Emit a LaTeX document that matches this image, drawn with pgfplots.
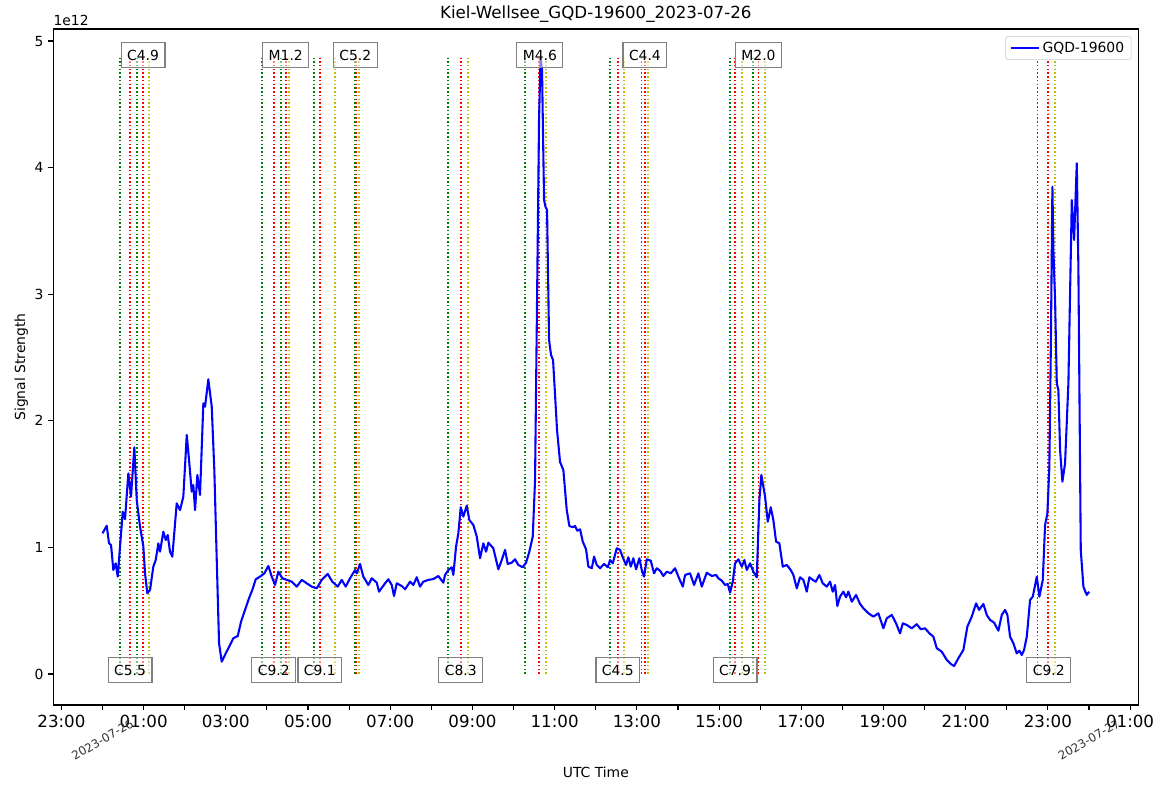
\documentclass[border=0pt]{standalone}
\usepackage{pgfplots}
\pgfplotsset{compat=1.18}
\usepackage{fontspec}
\setmainfont{DejaVu Sans}
\definecolor{fgreen}{rgb}{0,0.5,0}
\definecolor{fred}{rgb}{1,0,0}
\definecolor{fyel}{rgb}{0.75,0.75,0}
\definecolor{mblue}{rgb}{0,0,1}
\pgfplotstableread{
h v
0.000 1.111
0.102 1.171
0.158 1.032
0.207 1.019
0.263 0.821
0.321 0.874
0.370 0.769
0.426 1.006
0.491 1.282
0.547 1.222
0.628 1.585
0.693 1.401
0.774 1.791
0.832 1.374
0.912 1.164
0.993 1.006
1.034 0.795
1.090 0.637
1.156 0.664
1.236 0.848
1.294 0.900
1.358 1.032
1.399 0.966
1.479 1.124
1.538 1.058
1.586 1.098
1.642 0.966
1.698 0.927
1.805 1.348
1.886 1.295
1.966 1.401
2.049 1.888
2.105 1.690
2.170 1.440
2.209 1.493
2.251 1.295
2.307 1.572
2.372 1.414
2.453 2.138
2.494 2.111
2.574 2.328
2.657 2.111
2.720 1.611
2.779 0.900
2.835 0.242
2.900 0.097
2.998 0.163
3.061 0.203
3.182 0.282
3.290 0.300
3.370 0.413
3.467 0.506
3.564 0.598
3.645 0.664
3.727 0.748
3.832 0.769
3.937 0.795
4.034 0.853
4.117 0.769
4.197 0.703
4.277 0.808
4.375 0.756
4.482 0.743
4.603 0.729
4.725 0.690
4.847 0.743
4.968 0.716
5.090 0.690
5.212 0.677
5.333 0.743
5.479 0.790
5.591 0.729
5.723 0.690
5.820 0.743
5.917 0.690
6.022 0.756
6.144 0.821
6.185 0.795
6.265 0.869
6.345 0.769
6.467 0.703
6.550 0.756
6.672 0.721
6.727 0.650
6.873 0.716
6.954 0.748
7.036 0.703
7.092 0.616
7.158 0.716
7.280 0.695
7.360 0.669
7.482 0.729
7.562 0.703
7.645 0.764
7.725 0.690
7.805 0.729
7.927 0.743
8.049 0.750
8.170 0.774
8.292 0.721
8.333 0.782
8.414 0.821
8.496 0.843
8.535 0.782
8.601 1.006
8.657 1.111
8.715 1.317
8.779 1.243
8.861 1.330
8.925 1.216
9.022 1.177
9.105 1.085
9.185 0.914
9.265 1.032
9.331 0.966
9.387 1.037
9.508 0.993
9.630 0.827
9.713 0.900
9.793 0.980
9.859 0.869
9.956 0.879
10.036 0.906
10.117 0.861
10.224 0.843
10.304 0.879
10.384 0.966
10.467 1.085
10.523 1.532
10.572 2.954
10.620 4.376
10.657 4.866
10.693 4.771
10.742 3.744
10.779 3.689
10.815 3.665
10.864 2.638
10.912 2.520
10.961 2.480
11.010 2.204
11.058 1.927
11.131 1.675
11.212 1.611
11.294 1.295
11.358 1.169
11.440 1.159
11.496 1.169
11.552 1.132
11.618 1.143
11.684 1.045
11.764 0.985
11.820 0.848
11.903 0.835
11.959 0.927
12.024 0.861
12.105 0.835
12.202 0.869
12.292 0.843
12.348 0.900
12.414 0.874
12.511 0.993
12.591 0.980
12.657 0.922
12.737 0.861
12.793 0.922
12.852 0.848
12.915 0.914
12.981 0.827
13.061 0.914
13.119 0.821
13.175 0.769
13.241 0.906
13.338 0.895
13.418 0.795
13.484 0.835
13.564 0.816
13.645 0.774
13.727 0.808
13.825 0.795
13.929 0.835
14.010 0.769
14.117 0.690
14.173 0.782
14.294 0.795
14.392 0.703
14.496 0.795
14.579 0.690
14.701 0.800
14.822 0.774
14.927 0.782
14.983 0.756
15.066 0.737
15.146 0.703
15.212 0.711
15.268 0.642
15.333 0.729
15.389 0.874
15.470 0.906
15.552 0.848
15.616 0.900
15.674 0.821
15.754 0.874
15.835 0.808
15.917 0.764
15.981 1.374
16.029 1.572
16.119 1.401
16.185 1.203
16.258 1.317
16.321 1.216
16.387 1.045
16.467 1.032
16.550 0.848
16.647 0.861
16.745 0.821
16.808 0.782
16.891 0.677
16.971 0.764
17.051 0.743
17.134 0.650
17.197 0.764
17.280 0.743
17.353 0.729
17.440 0.782
17.523 0.716
17.620 0.690
17.701 0.729
17.766 0.650
17.822 0.703
17.878 0.537
17.944 0.611
18.024 0.650
18.090 0.606
18.146 0.650
18.229 0.571
18.333 0.624
18.431 0.553
18.511 0.519
18.633 0.479
18.754 0.453
18.876 0.479
18.998 0.361
19.080 0.440
19.202 0.466
19.307 0.400
19.404 0.321
19.470 0.400
19.567 0.387
19.689 0.361
19.810 0.393
19.908 0.353
20.012 0.361
20.117 0.321
20.214 0.295
20.297 0.203
20.418 0.176
20.540 0.111
20.637 0.079
20.718 0.063
20.822 0.124
20.944 0.190
21.041 0.374
21.148 0.453
21.253 0.558
21.326 0.506
21.431 0.553
21.513 0.466
21.594 0.427
21.691 0.405
21.796 0.342
21.878 0.466
21.959 0.506
22.015 0.466
22.080 0.295
22.161 0.242
22.243 0.163
22.307 0.184
22.365 0.150
22.421 0.190
22.487 0.295
22.567 0.585
22.633 0.611
22.730 0.769
22.793 0.611
22.876 0.743
22.932 1.177
22.988 1.269
23.036 1.637
23.071 2.559
23.110 3.849
23.134 3.349
23.175 2.954
23.217 2.296
23.255 2.243
23.297 1.769
23.353 1.519
23.418 1.664
23.499 2.296
23.582 3.744
23.638 3.428
23.703 4.034
23.742 3.217
23.800 0.979
23.864 0.690
23.946 0.624
24.002 0.650
}\sig
\pgfplotsset{
  fs/.style={color=fgreen, line width=1.25pt, dash pattern=on 1.1pt off 1.6pt, forget plot},
  fp/.style={color=fred, line width=1.25pt, dash pattern=on 1.1pt off 1.6pt, forget plot},
  fe/.style={color=fyel, line width=1.25pt, dash pattern=on 1.1pt off 1.6pt, forget plot},
}
\newcommand{\flare}[3]{%
  \addplot[fs] coordinates {(#1,0) (#1,4.866)};
  \addplot[fp] coordinates {(#2,0) (#2,4.866)};
  \addplot[fe] coordinates {(#3,0) (#3,4.866)};
}
\begin{document}
\begin{tikzpicture}
\path[use as bounding box] (-38.4pt,-62.64pt) rectangle (803.3pt,507.6pt);
\begin{axis}[
  scale only axis,
  width=781.2pt, height=486.7pt,
  xmin=-1.197, xmax=25.20,
  ymin=-0.245, ymax=5.095,
  axis line style={line width=0.8pt},
  tick style={black, line width=0.8pt},
  tick align=outside,
  major tick length=3.5pt, minor tick length=3.5pt,
  xtick={-1,1,...,25},
  xticklabels={23:00,01:00,03:00,05:00,07:00,09:00,11:00,13:00,15:00,17:00,19:00,21:00,23:00,01:00},
  minor xtick={0,2,...,24},
  ytick={0,1,2,3,4,5},
  xtick pos=bottom, ytick pos=left,
  /pgf/number format/assume math mode=true,
  xticklabel style={font=\fontsize{12}{14}\selectfont},
  yticklabel style={font=\fontsize{10}{12}\selectfont},
  title={Kiel-Wellsee\_GQD-19600\_2023-07-26},
  title style={at={(axis description cs:0.5,1.0104)}, anchor=center, font=\fontsize{12}{14}\selectfont},
  xlabel={UTC Time},
  xlabel style={at={(axis description cs:0.5,-0.1)}, anchor=center, font=\fontsize{10}{12}\selectfont},
  ylabel={Signal Strength},
  ylabel style={at={(axis description cs:-0.0295,0.5)}, anchor=center, font=\fontsize{10}{12}\selectfont},
  legend style={at={(axis description cs:1,1)}, anchor=north east, xshift=-5pt, yshift=-5pt,
    draw=black!20, fill=white, rounded corners=2pt, font=\fontsize{10}{12}\selectfont,
    inner xsep=3pt, inner ysep=2pt},
  legend cell align=left,
  legend image code/.code={\draw[#1, line width=1.5pt] (0pt,0pt) -- (20pt,0pt);},
  clip=false,
]
\flare{0.426}{0.669}{1.131}
\flare{0.839}{0.985}{1.131}
\flare{3.881}{4.165}{4.530}
\flare{4.343}{4.457}{4.530}
\flare{5.146}{5.285}{5.657}
\flare{6.143}{6.180}{6.234}
\flare{8.400}{8.715}{8.886}
\flare{10.280}{10.620}{10.790}
\flare{12.350}{12.535}{12.690}
\flare{13.115}{13.196}{13.277}
\flare{15.270}{15.390}{15.550}
\flare{15.820}{15.960}{16.120}
\flare{22.750}{23.000}{23.170}
\addplot[mblue, line width=1.5pt, line join=round] table[x=h, y=v] {\sig};
\addlegendentry{GQD-19600}
\tikzset{lbl/.style={draw=gray, fill=white, fill opacity=0.5, text opacity=1, draw opacity=1,
   line width=0.9pt, inner xsep=4.3pt, minimum height=18pt, anchor=center, font=\fontsize{10}{12}\selectfont}}
\node[lbl] at (axis cs:0.669,0.03) {C5.5};
\node[lbl] at (axis cs:0.985,4.89) {C4.9};
\node[lbl] at (axis cs:4.165,0.03) {C9.2};
\node[lbl] at (axis cs:4.457,4.89) {M1.2};
\node[lbl] at (axis cs:5.285,0.03) {C9.1};
\node[lbl] at (axis cs:6.150,4.89) {C5.2};
\node[lbl] at (axis cs:8.715,0.03) {C8.3};
\node[lbl] at (axis cs:10.640,4.89) {M4.6};
\node[lbl] at (axis cs:12.535,0.03) {C4.5};
\node[lbl] at (axis cs:13.196,4.89) {C4.4};
\node[lbl] at (axis cs:15.390,0.03) {C7.9};
\node[lbl] at (axis cs:15.960,4.89) {M2.0};
\node[lbl] at (axis cs:23.020,0.03) {C9.2};
\node[anchor=west, inner sep=0pt, font=\fontsize{10}{12}\selectfont] at (axis description cs:0,1.0133) {1e12};
\node[rotate=30, anchor=center, text=black!80, font=\fontsize{8.5}{10}\selectfont] at ([yshift=-25pt]axis cs:0,-0.245) {2023-07-26};
\node[rotate=30, anchor=center, text=black!80, font=\fontsize{8.5}{10}\selectfont] at ([yshift=-25pt]axis cs:24,-0.245) {2023-07-27};
\end{axis}
\end{tikzpicture}
\end{document}
